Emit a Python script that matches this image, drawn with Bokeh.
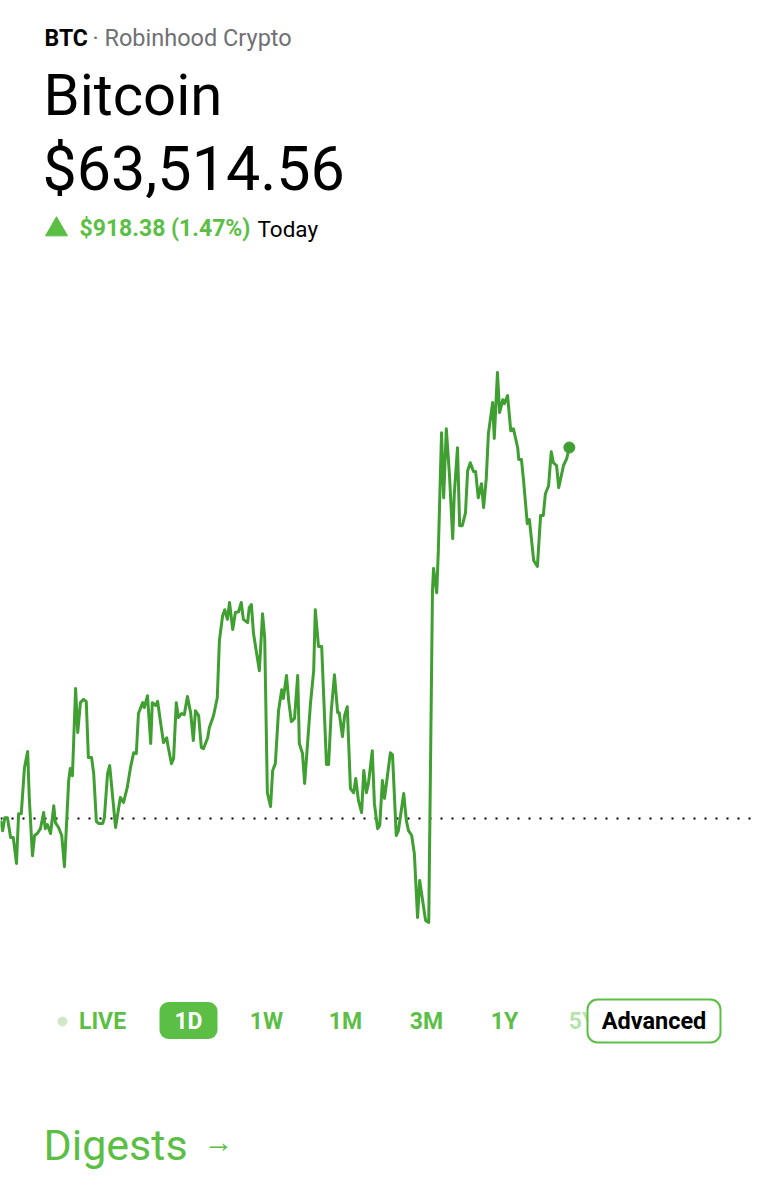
'''
Robinhood style 1D Bitcoin chart, redrawn with Bokeh.
'''
from bokeh.plotting import figure
from bokeh.models import Range1d
from bokeh.core.properties import value
from bokeh.embed import file_html
from bokeh.resources import INLINE

# header texts
symbol = "BTC"
venue = "\u00b7 Robinhood Crypto"
name = "Bitcoin"
last_price = 63514.56
change = 918.38
change_pct = 1.47
prev_close = round(last_price - change, 2)

# minutes since start of the day / price in USD
minutes = [0, 4, 8, 13, 19, 24, 30, 34, 39, 45, 51, 54, 60, 64, 69, 75, 81, 84, 88, 94,
           100, 103, 109, 115, 120, 128, 131, 135, 141, 145, 150, 156, 161, 165, 171, 175, 180, 184, 192, 195,
           201, 205, 216, 225, 231, 238, 244, 250, 255, 259, 267, 270, 276, 282, 285, 291, 295, 300, 306, 312,
           315, 321, 325, 330, 334, 340, 345, 351, 357, 362, 366, 372, 377, 381, 389, 392, 400, 407, 411, 417,
           421, 426, 430, 436, 441, 447, 452, 456, 464, 467, 471, 475, 486, 492, 496, 501, 507, 511, 516, 522,
           528, 531, 537, 541, 546, 552, 558, 561, 567, 571, 582, 588, 591, 597, 603, 612, 616, 621, 627, 633,
           636, 642, 646, 651, 657, 663, 667, 672, 678, 682, 687, 691, 698, 702, 708, 712, 717, 721, 732, 736,
           743, 747, 757, 762, 766, 772, 777, 783, 787, 798, 804, 811, 813, 819, 822, 828, 832, 837, 843, 849,
           852, 858, 862, 867, 873, 877, 882, 888, 892, 897, 903, 907, 912, 916, 924, 927, 933, 937, 943, 946,
           952, 958, 963, 971, 973, 978, 982, 989, 993, 1001, 1008, 1014, 1019, 1023, 1029, 1034, 1038, 1044, 1048, 1057,
           1063, 1068]
prices = [62591, 62566, 62598, 62598, 62549, 62549, 62485, 62608, 62608, 62722, 62762, 62648, 62504, 62554, 62559, 62571, 62611, 62571, 62581, 62559,
          62628, 62586, 62574, 62554, 62477, 62690, 62720, 62702, 62918, 62809, 62883, 62891, 62886, 62747, 62747, 62707, 62589, 62584, 62584, 62598,
          62707, 62727, 62574, 62648, 62636, 62673, 62722, 62759, 62757, 62856, 62883, 62871, 62900, 62782, 62883, 62876, 62886, 62839, 62784, 62796,
          62772, 62732, 62745, 62883, 62846, 62856, 62853, 62898, 62858, 62789, 62863, 62851, 62772, 62769, 62796, 62821, 62851, 62895, 63037, 63098,
          63113, 63089, 63131, 63064, 63106, 63108, 63131, 63089, 63081, 63118, 63126, 63054, 62962, 63103, 63044, 62660, 62626, 62715, 62732, 62863,
          62915, 62893, 62950, 62888, 62836, 62844, 62950, 62782, 62757, 62683, 62881, 62962, 63113, 63022, 63022, 62730, 62730, 62863, 62952, 62858,
          62858, 62799, 62851, 62873, 62670, 62660, 62695, 62641, 62611, 62715, 62660, 62685, 62764, 62633, 62571, 62579, 62690, 62646, 62759, 62754,
          62554, 62566, 62658, 62591, 62566, 62554, 62509, 62351, 62443, 62344, 62339, 63160, 63215, 63155, 63259, 63551, 63390, 63561, 63445, 63289,
          63400, 63514, 63321, 63321, 63353, 63457, 63477, 63455, 63455, 63390, 63425, 63366, 63438, 63549, 63626, 63537, 63700, 63601, 63633, 63623,
          63643, 63556, 63561, 63514, 63485, 63485, 63433, 63326, 63336, 63235, 63220, 63346, 63346, 63400, 63420, 63504, 63477, 63470, 63415, 63470,
          63487, 63514.56]

# range buttons
spans = ["LIVE", "1D", "1W", "1M", "3M", "1Y", "5Y"]
span_x = [102, 188, 266, 345, 426, 504, 582]

GREEN = "#5bbf45"
LINE_GREEN = "#3f9f31"
FONT = value("Roboto")

W, H = 751, 1184
# the page coordinates: 1 unit = 1 pixel of the screenshot
p = figure(width=W, height=H, x_range=Range1d(0, W), y_range=Range1d(H, 0),
           x_axis_type=None, y_axis_type=None, tools="", toolbar_location=None,
           output_backend="svg", min_border=0, outline_line_color=None)
p.xgrid.visible = False
p.ygrid.visible = False

# price chart scales, pinned so that the previous close sits at y=818
# and the last price at y=447, the day (1440 min) across 767 px
min_per_px = 1440 / 767
usd_per_px = change / (818 - 447)
p.extra_x_ranges = {"time": Range1d(0, W * min_per_px)}
p.extra_y_ranges = {"price": Range1d(prev_close - (H - 818) * usd_per_px,
                                     prev_close + 818 * usd_per_px)}


def label(x, base, s, size, color="black", style="normal", align="left", alpha=1.0):
    # svg output draws "alphabetic" text about 0.35em low, so lift it back
    y = base - 0.355 * size
    p.text(x=[x], y=[y], text=[s], text_font=FONT, text_font_size="%gpx" % size, text_color=color,
           text_font_style=style, text_align=align, text_baseline="alphabetic", text_alpha=alpha)


# header
label(44, 46, symbol, 23, style="bold")
label(92, 46, venue, 23.5, color="#707075")
label(43, 115, name, 58)
label(42, 190, "${:,.2f}".format(last_price), 61)
p.scatter(x=[56], y=[229], marker="triangle", size=22, color=GREEN)
label(79, 236, "${:,.2f} ({:.2f}%)".format(change, change_pct), 23, color=GREEN, style="bold")
label(257, 236, "Today", 22.5)

# baseline (previous close) and price line
p.line(x=[0, 1440], y=[prev_close, prev_close], x_range_name="time", y_range_name="price",
       line_color="black", line_width=2, line_dash="2 9")
p.line(x=minutes, y=prices, x_range_name="time", y_range_name="price",
       line_color=LINE_GREEN, line_width=3, line_join="round")
p.scatter(x=minutes[-1:], y=prices[-1:], x_range_name="time", y_range_name="price",
          size=11, color=LINE_GREEN)

# range selector
p.scatter(x=[62], y=[1021], size=9, color="#cfe8c8")
p.rect(x=[188], y=[1020], width=58, height=37, fill_color=GREEN, line_color=None, border_radius=9)
for s, sx in zip(spans, span_x):
    color = "white" if s == "1D" else GREEN
    alpha = 0.45 if s == "5Y" else 1.0
    label(sx, 1029, s, 23, color=color, style="bold", align="center", alpha=alpha)
p.rect(x=[653.5], y=[1020.5], width=133, height=43, fill_color="white", line_color=GREEN,
       line_width=2, border_radius=10)
label(653.5, 1029, "Advanced", 23.5, style="bold", align="center")

# section title
label(43, 1160, "Digests", 43, color=GREEN)
label(203, 1152, "\u2192", 30, color=GREEN)

open("out.html", "w").write(file_html(p, INLINE))
